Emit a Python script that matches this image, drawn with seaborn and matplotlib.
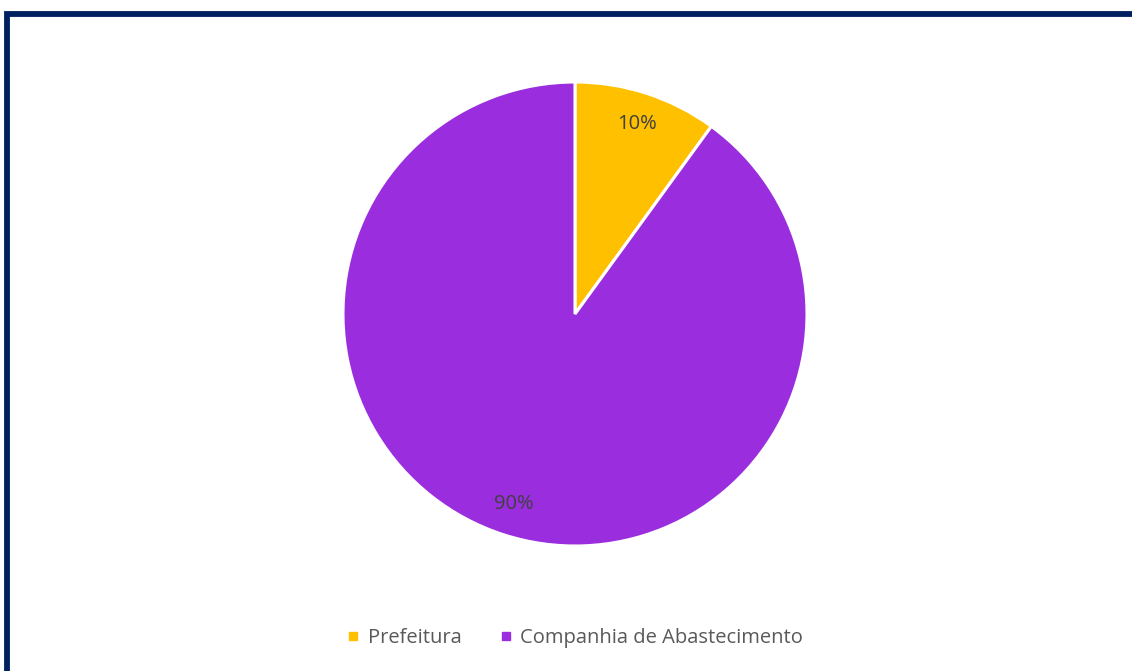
import matplotlib
matplotlib.use("Agg")
import matplotlib.pyplot as plt
from matplotlib.patches import Rectangle
from matplotlib.lines import Line2D
import seaborn as sns

# Data
categories = ["Prefeitura", "Companhia de Abastecimento"]
shares = [10, 90]
colors = ["#FFC000", "#9A2EDE"]

sns.set_theme(style="white")
plt.rcParams["font.family"] = ["Open Sans", "DejaVu Sans"]

W, H = 1132, 671
fig = plt.figure(figsize=(W / 100, H / 100), dpi=100)
fig.patch.set_facecolor("white")

ax = fig.add_axes([0, 0, 1, 1])

wedges, texts, autotexts = ax.pie(
    shares,
    colors=colors,
    startangle=90,
    counterclock=False,
    center=(575, H - 314),
    radius=232,
    autopct="%1.0f%%",
    pctdistance=0.86,
    wedgeprops=dict(edgecolor="white", linewidth=2.2),
    textprops=dict(color="#404040", fontsize=14.5),
    frame=True,
)
ax.set_xlim(0, W)
ax.set_ylim(0, H)
ax.set_aspect("equal")
ax.axis("off")

# Legend
handles = [Line2D([0], [0], marker="s", linestyle="none", markersize=5.8,
                  markerfacecolor=c, markeredgecolor=c) for c in colors]
fig.legend(handles, categories, loc="center", bbox_to_anchor=(575 / W, 1 - 638 / H),
           ncol=2, frameon=False, fontsize=14.5, labelcolor="#595959",
           handlelength=0.6, handletextpad=0.4, columnspacing=1.9)

# Frame border (top and left edges visible)
fig.add_artist(Rectangle((7.0 / W, -0.1), 1.2, (1 - 14.0 / H) + 0.1,
                         transform=fig.transFigure, fill=False,
                         edgecolor="#002060", linewidth=4.2))

fig.savefig("out.png", dpi=100, facecolor="white")
